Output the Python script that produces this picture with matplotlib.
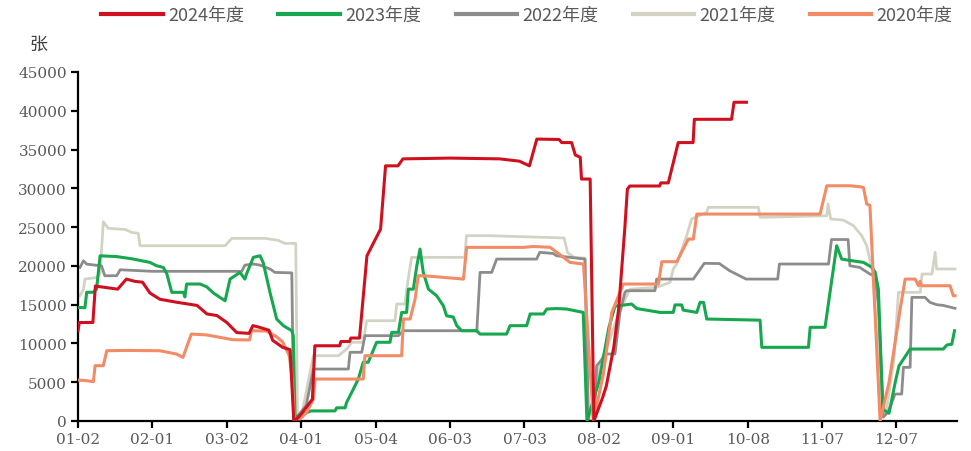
import matplotlib
matplotlib.use("Agg")
import matplotlib.pyplot as plt

plt.rcParams['font.family'] = ['Noto Sans CJK SC', 'DejaVu Sans']

# x is the category index (one per trading day), ticks every 30 categories
tick_pos = [0, 30, 60, 90, 120, 150, 180, 210, 240, 270, 300, 330]
tick_labels = ['01-02', '02-01', '03-02', '04-01', '05-04', '06-03',
               '07-03', '08-02', '09-01', '10-08', '11-07', '12-07']

# 2024
x_2024 = [0, 0.5, 6, 7, 16, 19.5, 23, 26, 29, 33, 40, 48, 52, 56, 60, 64, 69, 70.5, 73, 77, 78.5,
          82.5, 85.5, 87, 89, 94.5, 95.5, 105.5, 106, 109.5, 110, 113.5, 116.5, 122, 124, 129, 131,
          150, 170, 178, 182, 185, 194, 195, 199, 200.5, 202.5, 203, 206.5, 208, 211.5, 213, 216,
          218, 220.5, 221.5, 222.5, 234.5, 235, 238, 242, 248, 248.5, 263.5, 264.5, 269.5]
y_2024 = [11600, 12700, 12700, 17400, 17000, 18300, 18000, 17900, 16500, 15700, 15300, 14900, 13800,
          13600, 12700, 11400, 11300, 12300, 12100, 11700, 10400, 9500, 9200, 0, 500, 2800, 9700,
          9700, 10250, 10250, 10700, 10700, 21300, 24750, 32900, 32900, 33800, 33900, 33800, 33500,
          32900, 36350, 36300, 35900, 35900, 34300, 34000, 31200, 31200, 0, 3000, 4500, 9500, 14500,
          25000, 29900, 30300, 30300, 30700, 30700, 35900, 35900, 38900, 38900, 41100, 41100]

# 2023
x_2023 = [0, 2.8, 3.5, 6.2, 7.5, 8.9, 15.6, 22, 29, 31.7, 34.4, 35.8, 37.8, 42.5, 43.1, 43.8, 49.2,
          51.9, 54.6, 59.3, 61.3, 65.3, 67.3, 68, 70.7, 73.4, 74.7, 77.4, 80.1, 82.8, 86.2, 86.8,
          87.5, 94, 103.6, 104.3, 107.7, 108.3, 111, 113, 115, 117, 120.4, 125.8, 126.5, 129.2,
          130.5, 132.5, 133.2, 135.2, 136.6, 137.9, 139.2, 141.3, 144.6, 147.3, 148.6, 151.3,
          152.7, 154.7, 160.7, 162.1, 172.8, 174.2, 180.9, 182.3, 187.7, 189, 193, 197, 203.7,
          205.2, 210, 214, 216.5, 223.2, 225.3, 234.7, 240, 240.7, 243.4, 244, 249.5, 250.8, 252.2,
          253.5, 275, 275.7, 294.5, 295.2, 301.2, 303.2, 305.9, 307.9, 311.3, 316.7, 320.1, 321.4,
          322.7, 324.5, 327, 329.5, 331, 335.5, 348.9, 350.3, 352.3, 353.4]
y_2023 = [14650, 14600, 16600, 16600, 17000, 21300, 21200, 20900, 20450, 20020, 19800, 19000, 16590,
          16590, 16000, 17660, 17660, 17300, 16500, 15500, 18300, 19160, 18300, 19000, 21100, 21300,
          20400, 16590, 13150, 12290, 11640, 11000, 500, 1300, 1300, 1700, 1700, 2400, 4100, 5400,
          7570, 7570, 10150, 10150, 11430, 11430, 14000, 14000, 17000, 17000, 20000, 22170, 19160,
          17000, 16150, 14860, 13570, 13400, 12300, 11640, 11640, 11210, 11210, 12290, 12290, 13800,
          13800, 14440, 14500, 14440, 14000, 0, 5000, 12000, 14800, 15080, 14500, 14000, 14000,
          14970, 14970, 14300, 14000, 15300, 15300, 13150, 13000, 9500, 9500, 12080, 12080, 16590,
          22600, 20880, 20700, 20450, 19810, 19200, 17000, 1500, 1000, 5000, 7100, 9280, 9280, 9800,
          9900, 11640]

# 2022
x_2022 = [0.8, 2.2, 3.5, 9.5, 10.8, 15.6, 17, 30, 66, 67.3, 70.7, 73.4, 77.4, 79.4, 86.2, 87, 92,
          94.9, 109, 109.7, 114.4, 115.7, 129.2, 131.2, 160.8, 162.1, 166.8, 168.8, 184.9, 186.2,
          191.6, 193, 204.4, 205.8, 208.2, 209.1, 213.2, 216.5, 218.5, 220.5, 221.2, 232.6, 233.3,
          248.1, 252.5, 258.6, 262.6, 268, 269.4, 282.1, 282.8, 302.6, 303.8, 310.5, 311.2, 315.2,
          319.3, 321.3, 322.7, 324.7, 326.7, 329.4, 332.1, 332.8, 335.5, 336.2, 341.5, 343.5, 346.2,
          348.9, 353.6]
y_2022 = [19810, 20660, 20230, 20000, 18730, 18730, 19500, 19300, 19300, 20100, 20240, 20100, 19600,
          19160, 19100, 0, 2000, 6700, 6700, 8860, 8860, 11000, 11000, 11640, 11640, 19160, 19160,
          20880, 20880, 21750, 21600, 21300, 20880, 0, 0, 7130, 8640, 8640, 14000, 16590, 16800,
          16800, 18300, 18300, 20330, 20300, 19400, 18520, 18300, 18300, 20240, 20240, 23400, 23400,
          20020, 19800, 18950, 18700, 15000, 500, 1200, 3480, 3480, 6920, 6920, 15940, 15940, 15300,
          15000, 14900, 14530]

# 2021
x_2021 = [0.8, 2.2, 2.8, 7.5, 8.9, 10.2, 12.2, 19, 21.6, 24.3, 25, 59.3, 62, 75.4, 80.7, 83.4, 87.8,
          88.5, 90, 94.9, 105, 108.3, 110.4, 115, 116.4, 127.8, 128.5, 131.8, 133, 134.5, 156, 156.6,
          165, 196, 197.4, 200, 204.4, 205.7, 207.5, 210.5, 214.5, 217.2, 221.2, 222.6, 233.3,
          238.7, 240, 241.4, 245.4, 247.4, 253.5, 254.1, 274.3, 275, 301.9, 302.4, 303.5, 308.6,
          312.6, 316, 318, 320.5, 324, 326, 329, 330.8, 339.6, 340.3, 344.3, 345.6, 346.2, 353.6]
y_2021 = [16150, 17000, 18300, 18500, 19000, 25690, 24840, 24700, 24320, 24200, 22600, 22600, 23550,
          23550, 23300, 22900, 22900, 0, 500, 8420, 8420, 9280, 10150, 10150, 12930, 12930, 15080,
          15080, 18000, 21100, 21100, 23890, 23900, 23600, 21700, 21100, 21000, 0, 1500, 7570, 10570,
          13150, 16150, 17000, 17230, 17870, 19590, 20240, 23890, 26040, 26900, 27550, 27550, 26260,
          26470, 28000, 26040, 25900, 25200, 23890, 22600, 19000, 1500, 1500, 8000, 16590, 16590,
          18950, 18950, 21750, 19600, 19600]

# 2020
x_2020 = [0, 3.5, 6.2, 6.9, 10.2, 11.6, 19.6, 33, 39.7, 42.3, 45.7, 51.8, 62.5, 69.2, 69.9, 75.9,
          79.9, 82.5, 85.2, 86.5, 87.2, 89.5, 92.2, 94.9, 95.6, 115, 115.7, 130.5, 131.2, 133.9,
          135.9, 137.2, 140.6, 155.4, 156.7, 179.6, 183.6, 190.3, 194.4, 198.4, 203.8, 207.8, 211.8,
          215.2, 219.9, 234, 235.4, 241.4, 246.1, 248.1, 249.5, 299.2, 301.9, 311.3, 315.3, 316.7,
          318, 319.3, 323.4, 327, 331.5, 333.5, 337.5, 338.9, 339.5, 340.2, 351.6, 352.9, 353.6]
y_2020 = [5280, 5200, 5070, 7130, 7130, 9060, 9100, 9060, 8640, 8200, 11210, 11100, 10480, 10450,
          11640, 11600, 10900, 10200, 8420, 5000, 300, 260, 1100, 2840, 5410, 5410, 8420, 8420, 13150,
          13150, 15700, 18730, 18700, 18300, 22390, 22390, 22500, 22400, 21430, 20450, 20240, 0, 6000,
          14000, 17660, 17660, 20540, 20540, 23460, 23460, 26680, 26680, 30330, 30330, 30200, 30100,
          27970, 27800, 0, 5000, 14440, 18300, 18300, 17440, 18000, 17440, 17440, 16150, 16150]

fig = plt.figure(figsize=(9.71, 4.52), dpi=100)
ax = fig.add_axes([78 / 971, 30 / 452, 879 / 971, 349 / 452])

ax.plot(x_2021, y_2021, color='#D3D3C4', lw=2.0, label='2021年度', zorder=1)
ax.plot(x_2022, y_2022, color='#8C8C8C', lw=2.0, label='2022年度', zorder=2)
ax.plot(x_2023, y_2023, color='#17A84F', lw=2.2, label='2023年度', zorder=3)
ax.plot(x_2020, y_2020, color='#F28B66', lw=2.2, label='2020年度', zorder=4)
ax.plot(x_2024, y_2024, color='#D0101E', lw=2.2, label='2024年度', zorder=5)

ax.set_xlim(0, 354.4)
ax.set_ylim(0, 45000)
ax.set_xticks(tick_pos)
ax.set_xticklabels(tick_labels)
ax.set_yticks(range(0, 45001, 5000))

for s in ['top', 'right']:
    ax.spines[s].set_visible(False)
for s in ['left', 'bottom']:
    ax.spines[s].set_linewidth(1.6)
    ax.spines[s].set_color('black')
ax.tick_params(axis='both', direction='out', length=5, width=1.6, colors='black',
               labelcolor='#595959', labelsize=11, pad=3)
for lab in ax.get_xticklabels() + ax.get_yticklabels():
    lab.set_family('DejaVu Serif')

fig.text(38 / 971, 1 - 45 / 452, '张', ha='center', va='center', fontsize=13, color='#404040')

handles, labels = ax.get_legend_handles_labels()
order = ['2024年度', '2023年度', '2022年度', '2021年度', '2020年度']
hmap = dict(zip(labels, handles))
leg = fig.legend([hmap[k] for k in order], order, loc='center', ncol=5,
                 bbox_to_anchor=(527 / 971, 1 - 16 / 452), frameon=False,
                 fontsize=13, handlelength=3.4, handletextpad=0.3, columnspacing=1.9,
                 labelcolor='#595959')
for line in leg.get_lines():
    line.set_linewidth(3)

fig.savefig('out.png', dpi=100)
